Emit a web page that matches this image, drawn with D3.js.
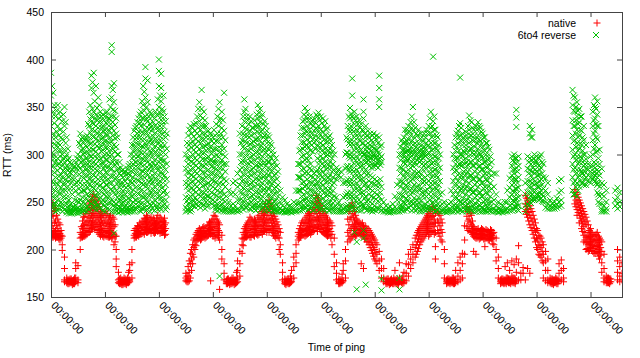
<!DOCTYPE html>
<html><head><meta charset="utf-8">
<script src="https://cdn.jsdelivr.net/npm/d3@7"></script>
<style>
body{margin:0;background:#fff}
svg{display:block}
text{font-family:"Liberation Sans",Arial,Helvetica,sans-serif;font-size:10.5px;fill:#000}
</style>
</head><body>
<svg id="c" width="640" height="358"></svg>
<script>
// ---- data (hours since start; each row: [hour, rtt values (ms)...]) ----
const yTicks = [150, 200, 250, 300, 350, 400, 450];
const xTickHours = [0, 24, 48, 72, 96, 120, 144, 168, 192, 216, 240];
const xTickLabels = ["00:00:00","00:00:00","00:00:00","00:00:00","00:00:00","00:00:00","00:00:00","00:00:00","00:00:00","00:00:00","00:00:00"];
const seriesNames = ["native", "6to4 reverse"];

// native: readings on the hour
const nativeA = [
[0,252,240,228,218,214],[1,246,235,222,216,213],[2,243,230,220,215,212],[3,232,222,216,213],[4,226,217,214,210],
[5,214,205,199],[6,192,180,168,166],[7,170,167,165],[8,168,166,164],[9,169,166,165],[10,168,167,164],
[11,186,180,170,166],[12,183,168,165],[13,218,212,200],[14,230,222,216,213],[15,235,226,218,214],
[16,240,230,222,216],[17,248,238,230,222,218],[18,252,244,236,228,222],[19,258,250,242,234,226],
[20,255,246,238,230,224],[21,248,240,232,224,218],[22,242,234,226,218,214],[23,236,228,220,214],
[24,240,230,222,215],[25,238,228,220,214],[26,234,226,218,213],[27,230,222,216,212],[28,232,224,216,205],
[29,214,200,190,182],[30,176,168,165],[31,170,166,164],[32,168,165,163],[33,169,166,164],[34,170,167,165],
[35,184,178,168,166],[36,200,186,170],[37,220,215,212],[38,222,216,213],[39,224,218,214],[40,226,220,216],
[41,230,224,218],[42,232,226,220],[43,234,228,222,218],[44,232,226,221],[45,230,225,220],[46,231,226,221,217],
[47,233,227,222],[48,230,225,220],[49,232,226,222,218],[50,230,224,219],[51,228,222,216],
[60,175,170,167],[61,182,172,166],[62,196,185,170],[63,205,195,185],[64,212,205,200],[65,218,214,210],
[66,222,216,212],[67,220,215,211],[68,224,218,214],[69,222,217,213],[70,226,220,215],[71,228,221,216,167],
[72,232,224,218,214],[73,235,226,218,212],[74,230,222,215],[75,226,218,210,158],[76,215,200,190],
[77,185,175,168],[78,168,166,164],[79,169,166,165],[80,168,167,164],[81,170,166,165],[82,168,165,164],
[83,188,178,170,166],[84,198,185,172],[85,212,205,196],[86,222,216,212],[87,226,218,213],[88,230,222,215],
[89,232,224,218,213],[90,228,221,215],[91,230,224,218],[92,234,226,220,215],[93,232,225,218],
[94,238,230,222,216],[95,245,236,228,220],[96,240,232,225,218],[97,252,242,232,224,218],[98,246,236,228,220],
[99,238,230,222,215],[100,232,224,217,212],[101,226,219,213],[102,218,205,195],[103,186,176,168],
[104,169,166,164],[105,168,166,165],[106,167,165,164],[107,178,169,166],[108,192,182,170],[109,205,196,186],
[110,218,214,210],[111,225,218,213],[112,230,222,216],[113,232,225,219,214],[114,236,228,222,216],
[115,240,232,224,218],[116,238,230,224,218],[117,244,234,226,220],[118,257,248,238,230,222],
[119,252,242,232,224],[120,246,236,228,221],[121,240,232,225,218],[122,236,228,222,216],[123,232,225,219,214],
[124,230,222,216],[125,225,216,205],[126,212,195,182],[127,186,175,168],[128,169,166,164],[129,168,166,165],
[130,185,178,167],[131,200,188,170],[132,232,218,208],[133,245,232,220,210],[134,249,238,226,214],
[135,240,230,222,216],[136,232,226,220,215],[137,228,222,217],[138,226,220,215,185],[139,225,219,214,180],
[140,224,218,212],[141,222,215,208],[142,218,210,202],[143,214,205,196],[144,210,200,190],[145,205,195,185],
[146,198,188,178],[147,190,180,170],[148,180,170,166],[149,168,166,164],[150,169,166,165],[151,168,165,164],
[152,167,166,164],[153,178,168,165],[154,169,166,164],[155,186,170,166],[156,168,166,165],[157,176,168,165],
[158,185,175,167],[159,195,184,172],[160,200,190,180],[161,205,195,186],[162,212,202,192],[163,218,208,198],
[164,222,214,205],[165,226,218,210],[166,230,222,214],[167,234,226,218],[168,238,230,222,214],
[169,242,234,226,218],[170,245,236,228,220],[171,238,228,218,203,190],[172,240,230,220],[173,236,225,214],
[174,228,218,208],[175,200,185,170],[176,168,166,164],[177,169,166,165],[178,168,167,165],[179,170,166,164],
[180,178,168,165],[181,186,172,166],[182,192,178,168],[183,196,185,170],[184,225,210,195],[185,245,235,224],
[186,242,232,222],[187,236,226,218],[188,224,218,214,198],[189,220,216,212,195],[190,222,217,213],
[191,220,216,212],[192,221,216,213],[193,219,215,211,203],[194,220,216,212],[195,218,214,210],
[196,220,215,211],[197,218,213,205],[198,212,200,188],[199,192,180,170],[200,168,166,164],[201,169,166,165],
[202,182,168,165],[203,186,170,166],[204,178,168,165],[205,188,172,166],[206,184,170,165],[207,190,176,167],
[208,204,186,168],[209,175,168],[210,181,175],[211,257,248,240,168],[212,252,242,234,180],[213,246,236,226,175],
[214,240,230,220],[215,232,222,212],[216,222,212,202],[217,215,205,195],[218,212,202,192],[219,205,195,186,170],
[220,198,188,178,167],[221,190,178,168,165],[222,170,167,165],[223,169,166,164],[224,168,166,165],
[225,169,167,164],[226,185,175,167],[227,189,178,168],[228,180,170,166],
[233,263,256,248],[234,258,250,242,236],[235,252,244,236,228],[236,246,238,230,222],[237,240,232,224,215,208],
[238,234,226,213,207,200],[239,226,218,212,205,198],[240,222,214,208,202],[241,216,210,204,198],
[242,215,209,203,196],[243,218,210,204,197],[244,212,205,198,190],[245,208,198,186,176],[246,195,180,170,166],
[247,172,168,165],[248,170,167,165],[249,169,166],[252,200,188,176,168],[253,192,182,172,166],[254,186,175,168]
];

// native: readings on the half hour
const nativeB = [
[0.5,247,236,225,217,213],[1.5,241,228,219,214],[2.5,236,225,217,213],[3.5,228,219,214,211],[4.5,220,215,212],
[7.5,168,166,164],[8.5,169,167,165],[9.5,167,165,163],[10.5,170,166,164],
[13.5,224,216,213],[14.5,234,225,218,214],[15.5,238,228,220,215],[16.5,244,234,226,219],[17.5,250,241,233,225,219],
[18.5,256,246,238,230,223],[19.5,252,244,236,228,221],[20.5,251,242,234,226,220],[21.5,245,236,228,221,216],
[22.5,238,230,222,216],[23.5,234,225,218,213],[24.5,236,227,219,214],[25.5,232,224,217,213],[26.5,236,228,220,214],
[27.5,234,226,218,213],[28.5,226,214,208],
[30.5,169,166,164],[31.5,168,165,163],[32.5,170,167,164],[33.5,168,165,163],[34.5,176,168,165],
[37.5,222,217,213],[38.5,225,219,215],[39.5,228,222,216],[40.5,229,223,217],[41.5,233,227,221,216],
[42.5,236,229,223,218],[43.5,230,224,219],[44.5,234,228,222,217],[45.5,233,227,222,218],[46.5,228,223,218],
[47.5,236,229,224,219],[48.5,234,228,222,217],[49.5,229,223,218],[50.5,233,226,220,215],
[60.5,172,168,166],[61.5,188,176,167],[62.5,200,190,178],[63.5,210,202,192],[64.5,216,209,204],[65.5,220,215,211],
[66.5,219,214,210],[67.5,223,217,213],[68.5,220,216,212],[69.5,225,219,214],[70.5,229,222,217],[71.5,230,223,217],
[72.5,236,228,220,214],[73.5,232,224,216],[74.5,228,220,213],
[78.5,169,166,164],[79.5,167,165,163],[80.5,170,166,164],[81.5,168,166,163],[82.5,176,168,165],
[85.5,218,211,204],[86.5,224,218,213],[87.5,228,220,214],[88.5,234,226,218,213],[89.5,230,222,216],
[90.5,232,225,218,214],[91.5,228,222,216],[92.5,236,229,222,216],[93.5,240,232,224,218],[94.5,242,234,226,219],
[95.5,248,239,230,222],[96.5,245,236,228,221],[97.5,248,240,231,222],[98.5,242,233,225,218],[99.5,235,227,220,214],
[100.5,229,222,215],[101.5,222,212,200],
[104.5,168,165,163],[105.5,169,167,164],[106.5,172,166,165],
[110.5,222,216,212],[111.5,228,220,215],[112.5,228,221,215],[113.5,234,227,220,215],[114.5,238,230,223,217],
[115.5,236,228,221,216],[116.5,242,232,225,219],[117.5,250,240,231,223],[118.5,254,244,234,226,219],
[119.5,248,238,230,222],[120.5,243,234,226,219],[121.5,238,230,223,217],[122.5,234,226,220,215],
[123.5,228,221,215],[124.5,228,219,212],
[128.5,168,165,164],[129.5,174,167,165],
[132.5,240,226,214],[133.5,246,234,222,212],[134.5,244,234,224,216],[135.5,236,228,220,214],[136.5,230,224,218],
[137.5,227,221,216],[138.5,228,222,216],[139.5,222,216,211],[140.5,220,214,208],[141.5,220,212,205],
[142.5,216,207,199],[143.5,212,202,193],[144.5,207,197,188],
[149.5,169,166,164],[150.5,167,165,163],[151.5,169,166,165],[152.5,170,167,164],[153.5,168,166,164],
[154.5,167,165,163],[156.5,172,167,164],
[162.5,215,205,195],[163.5,220,211,201],[164.5,224,216,208],[165.5,228,220,212],[166.5,232,224,216],
[167.5,236,228,220],[168.5,240,232,224,216],[169.5,244,235,227,219],[170.5,242,232,224,216],[172.5,238,228,217],
[173.5,232,221,210],
[176.5,169,167,165],[177.5,168,166,164],[178.5,170,166,165],[179.5,168,166,164],
[185.5,240,230,220],[186.5,238,228,219],[187.5,230,222,216],[188.5,222,217,213],[189.5,221,216,212],
[190.5,219,215,211],[191.5,222,217,213],[192.5,220,215,211],[193.5,221,216,212],[194.5,219,214,210],
[195.5,221,216,212],[196.5,217,212,206],
[200.5,169,167,165],[201.5,168,165,164],[202.5,170,166,164],[203.5,169,167,165],[204.5,168,166,164],
[205.5,170,167,165],[206.5,169,166,164],
[211.5,254,245,237],[212.5,249,239,230],[213.5,243,233,223],[214.5,236,226,216],[215.5,228,218,208],
[216.5,220,210,200],[217.5,214,204,194],[218.5,208,198,188],
[222.5,169,166,164],[223.5,168,165,163],[224.5,170,167,165],[225.5,168,166,164],
[233.5,260,252,245],[234.5,255,247,239],[235.5,249,241,233],[236.5,243,235,227,219],[237.5,237,229,218,210],
[238.5,230,214,208,201],[239.5,220,213,206,199],[240.5,218,211,205,199],[241.5,214,208,201,196],
[242.5,216,210,203,198],[243.5,214,207,200,193],[244.5,210,202,194],
[247.5,170,167,165],[248.5,169,166,164]
];

// 6to4 reverse: readings on the hour
const reverseA = [
[0,386,362,330,310,295,280,265,250,242],[1,365,345,322,300,288,270,255,244],[2,340,318,305,292,276,262,248,240],
[3,352,330,312,296,283,268,252,241],[4,345,326,310,298,286,272,258,243],[5,335,316,300,288,276,262,248,240],
[6,350,330,305,292,282,270,256,242],[7,318,300,288,278,265,248,241,239],[8,296,285,276,252,243,240,238],
[9,290,280,270,248,242,239,238],[10,286,274,264,245,241,239],[11,292,280,262,246,242,239],
[12,300,288,272,258,244,240,238],[13,322,310,298,286,270,252,242,239],[14,318,306,294,282,268,255,243,240],
[15,315,302,290,278,262,248,241],[16,320,308,296,285,272,258,245,240],[17,345,330,318,305,292,280,268,255,243],
[18,383,370,340,326,312,298,285,272,260,248],[19,386,365,345,332,318,305,292,278,264,250],
[20,372,342,330,316,303,290,276,262,250,242],[21,360,340,328,315,300,288,274,260,247],
[22,345,335,322,310,296,282,268,255,244],[23,342,330,318,305,292,278,265,252,241],
[24,340,326,314,300,288,275,262,250,240],[25,345,332,320,306,294,280,268,255,243],
[26,358,338,325,312,298,285,270,256,242],[27,415,408,372,360,340,328,314,300,285,270,252,240],
[28,375,355,340,325,310,296,282,266,250,240,217],[29,338,322,308,292,276,262,248,240],
[30,300,285,272,260,250,242,239],[31,286,278,268,255,244,240],[32,284,276,262,250,242,239],
[33,282,272,258,246,240],[34,285,274,260,248,241,239],[35,290,278,265,252,242,240],
[36,310,296,282,270,256,244,240],[37,325,310,298,286,272,258,246,240],[38,330,318,305,292,280,266,252,242],
[39,338,324,310,298,285,272,258,245],[40,345,330,316,302,290,276,262,248,240],
[41,372,352,338,322,308,295,282,268,255,243],[42,392,380,360,340,326,312,298,285,270,256,244],
[43,378,355,335,320,306,292,278,264,250],[44,345,332,318,304,290,276,262,248,240],
[45,340,326,312,298,284,270,256,243],[46,338,322,308,294,280,266,252,241],[47,342,328,314,300,286,272,258,244],
[48,400,388,372,350,334,320,306,292,278,262,248],[49,385,370,356,340,325,310,296,282,268,254,242],
[50,362,345,330,316,302,288,274,260,246],[51,335,318,300,284,268,252,242],
[60,300,285,270,255,244,240],[61,320,305,290,275,262,248,241],[62,330,312,298,284,270,256,243,240],
[63,328,314,300,286,272,258,246],[64,325,310,296,282,268,254,245],[65,340,322,308,294,280,266,252],
[66,355,335,320,306,292,278,264,250],[67,368,348,330,316,302,288,274,260,248],
[68,345,330,316,302,288,274,260,247],[69,330,318,304,290,276,262,250],[70,325,312,298,284,270,256,246],
[71,322,308,294,280,268,255],[72,318,305,292,280,266,252],[73,320,306,292,278,264,250,242],
[74,340,322,306,292,278,262,248,241],[75,355,335,318,302,286,270,254,242,172],
[76,345,328,310,294,278,262,248,241],[77,365,325,306,290,274,258,244,240],[78,290,272,256,244,240],
[79,262,250,242,240],[80,258,246,241,240],[81,270,260,248,242,240],[82,272,258,246,241],
[83,280,266,252,242,240],[84,322,300,284,268,252,241],[85,330,315,300,286,272,258,245],
[86,358,345,335,320,306,292,278,264,250],[87,340,326,312,298,284,270,256,244],[88,332,318,304,290,276,262,248],
[89,335,320,306,292,278,264,250,242],[90,328,314,300,286,272,258,246],[91,330,316,302,288,274,260,247,241],
[92,352,338,324,310,296,282,268,254,243],[93,348,334,320,305,290,276,262,248],[94,342,326,312,298,284,270,256,244],
[95,335,320,306,292,278,264,250,241],[96,325,312,298,284,270,256,244],[97,318,305,292,278,264,250,241],
[98,310,296,282,268,254,243],[99,300,286,272,258,246,240],[100,296,280,266,252,242,240],
[101,282,268,256,245,240],[102,262,250,243,240],[103,255,246,241,240],[104,252,244,240,239],
[105,248,242,240,239],[106,246,241,240],[107,245,241,239],[108,250,243,240],[109,262,248,241,240],
[110,290,276,262,248,241],[111,320,305,290,276,262,250,241],[112,335,320,306,292,278,264,252,242],
[113,349,336,322,308,294,280,266,252,243],[114,345,330,316,302,288,274,260,247],
[115,340,326,312,298,285,270,256,244],[116,335,322,310,284,270,256,244],[117,338,325,312,280,268,254,242],
[118,342,328,315,282,268,255,244],[119,344,330,318,304,290,276,262,248],[120,340,326,312,298,284,270,256,243],
[121,338,324,310,296,282,268,254,242],[122,335,320,306,292,278,264,250,241],[123,328,314,300,286,272,258,245],
[124,320,306,292,278,264,250,241],[125,310,296,282,268,254,243],[126,300,284,270,256,244,240],
[127,286,280,274,255,244,240],[128,284,278,250,242,240],[129,282,276,246,241,240],[130,270,255,243,240],
[131,300,285,270,256,244,240],[132,330,316,302,288,274,260,247,241],[133,349,338,324,310,296,282,268,254,242],
[134,380,362,340,326,312,298,284,270,256,244],[135,345,332,318,304,290,276,262,248,218],
[136,340,326,312,298,284,270,256,243,208,158],[137,336,322,308,294,280,266,252,241],
[138,332,318,305,292,278,264,250,241],[139,358,345,338,325,312,300,286,272,258,245,220,212],
[140,330,318,305,296,284,270,256,244,163],[141,325,312,302,294,280,266,252,242],
[142,322,310,300,292,278,264,250,241],[143,320,308,298,290,276,262,248,240],[144,318,306,298,290,274,260,246],
[145,320,305,298,291,272,258,244],[146,383,370,358,350,318,300,292,270,256,243],
[147,310,298,292,266,252,241,169,157],[148,250,243,240],[149,246,241,240],[150,244,240,239],
[151,245,241,239],[152,248,242,240],[153,256,245,240],[154,268,252,242,240],
[155,300,286,272,258,246,240,170,158],[156,315,300,286,272,258,246,241],[157,318,306,300,292,278,264,250,241],
[158,322,310,302,296,282,268,254,243],[159,330,316,304,296,284,270,256,244],[160,334,320,305,297,286,272,258,246],
[161,350,325,310,300,288,274,260,248],[162,328,312,302,292,278,264,250,241],[163,320,306,300,294,280,266,252,242],
[164,316,304,298,292,276,262,248,240],[165,318,305,299,290,274,260,246,240],[166,322,308,300,288,272,258,245],
[167,326,312,300,285,270,256,244],[168,330,315,302,288,272,258,245],[169,345,328,312,298,284,270,256,244],
[170,403,335,320,306,292,278,264,250,242],[171,326,312,298,284,270,256,244,240],[172,318,304,290,276,262,248,241],
[173,300,286,272,258,246,240],[174,260,248,241,240],[175,250,243,240],[176,246,241,239],[177,248,242,240],
[178,262,250,242,240],[179,300,286,272,258,246,240],[180,318,304,290,276,262,248,241],
[181,325,312,296,288,272,258,245,240],[182,381,333,320,300,289,276,262,250,241],[183,322,310,298,289,274,260,248,240],
[184,315,302,290,278,264,250,242],[185,320,306,292,280,266,252,243,240],[186,341,326,312,298,284,270,256,244],
[187,334,320,306,292,278,264,250,241],[188,326,314,300,288,274,260,247,240],[189,330,316,302,290,276,262,248,240],
[190,334,320,306,294,280,266,252,241],[191,328,314,300,288,274,260,246,240],[192,322,308,296,284,270,256,244,240],
[193,318,304,292,280,266,252,242,240],[194,312,298,286,272,258,245,240],[195,305,290,276,262,249,241],
[196,292,278,264,250,242,240],[197,280,266,252,243,240],[198,280,258,246,241,240],[199,250,243,240,239],
[200,248,242,240],[201,246,241,239],[202,250,242,240],[203,262,250,243,240],[204,275,265,255,246,241],
[205,298,288,278,268,258,248,241],[206,300,292,280,270,260,250,242],[207,347,339,329,296,286,274,264,254,245],
[208,298,288,276,265,255,246,241],[211,270,258,246,240],[212,298,285,272,260,248],[213,330,322,296,284,272,260,250],
[214,326,318,294,282,270,258,252],[215,300,290,280,268,256,252],[216,298,292,282,270,258,254],
[217,296,288,278,266,256,252],[218,300,286,274,262,254],[219,290,276,264,256,250],[220,275,262,250,244],
[221,270,258,248,243],[222,252,246,243],[223,248,245,243],[224,250,246,243],[225,254,247,244],
[226,272,260,250,245],[227,274,262,252,246],
[232,368,352,336,320,305,290,276,262],[233,360,345,330,315,300,286,272,258],[234,355,340,326,312,298,284,270,256],
[235,348,334,320,306,292,278,266],[236,340,325,310,296,282,270],[237,330,315,300,288,278,268],
[238,310,295,285,276,268],[239,290,284,278,272],[240,298,288,282,276,270],[241,345,330,315,300,288,280,274],
[242,360,350,338,325,310,286,278,272],[243,356,342,330,316,304,284,276,268,260],[244,305,290,278,266,256,248],
[245,285,270,258,248,242,240],[246,268,256,246,241,240],[247,262,250,243,240],
[251,262,252,246],[252,265,255,248,243],[253,260,250,245]
];

// 6to4 reverse: readings on the half hour
const reverseB = [
[0.5,372,340,318,302,287,272,258,246],[1.5,352,333,311,296,281,263,249],[2.5,346,324,309,289,270,256,244],
[3.5,338,320,304,290,277,261,247],[4.5,340,318,304,292,279,265,250],[5.5,342,324,296,283,269,255,244],
[6.5,334,312,297,286,274,262,249],[7.5,306,294,283,271,256,244],[8.5,292,281,264,247,241],
[9.5,284,275,258,244,240],[10.5,288,269,252,243,240],[11.5,296,285,270,251,243],[12.5,312,294,279,264,250,242],
[13.5,316,304,292,277,261,247],[14.5,312,300,288,275,262,250,241],[15.5,318,309,296,284,268,254,244],
[16.5,332,314,302,290,278,265,251,242],[17.5,352,337,323,311,298,286,274,261,249],
[18.5,376,348,333,319,305,291,279,266,254,244],[19.5,356,338,325,311,298,285,271,257,245],
[20.5,349,336,322,309,296,283,269,256,246],[21.5,352,334,321,307,294,281,267,253,243],
[22.5,340,328,316,303,289,275,261,249],[23.5,336,324,311,298,285,271,258,246],
[24.5,344,333,320,307,294,281,268,256,245],[25.5,338,326,313,300,287,274,261,249],
[26.5,350,332,318,305,291,277,263,249],[27.5,368,347,334,320,306,292,277,262,246],
[28.5,346,331,317,303,289,274,258,245],[29.5,318,300,284,269,255,244],[30.5,292,280,265,252,244],
[31.5,283,271,259,248,241],[32.5,280,267,254,244],[33.5,279,265,252,243],[34.5,288,280,268,254,244],
[35.5,300,286,272,259,247],[36.5,318,304,290,276,263,250,242],[37.5,328,316,304,292,279,265,252,243],
[38.5,334,322,311,298,286,273,259,246],[39.5,342,333,318,304,291,279,265,251,241],
[40.5,356,338,324,309,296,283,270,256,243],[41.5,366,346,331,316,302,289,276,261,248],
[42.5,350,337,323,309,295,281,267,253,241],[43.5,340,327,313,299,285,271,257,244],
[44.5,343,329,315,301,287,273,259,246],[45.5,334,319,305,291,277,263,249],[46.5,345,331,317,303,289,275,261,247],
[47.5,358,341,325,311,297,283,268,254,242],[48.5,362,344,330,315,301,287,272,257,244],
[49.5,348,335,321,307,293,279,265,251],[50.5,340,324,310,294,278,262,248],[51.5,322,306,290,274,258,245],
[60.5,312,296,281,266,251,242],[61.5,326,310,295,281,268,254,244],[62.5,322,307,292,278,264,250,242],
[63.5,332,319,305,291,277,263,251],[64.5,333,316,302,288,274,260,248],[65.5,348,328,314,300,286,272,258,246],
[66.5,341,326,312,298,284,270,256,244],[67.5,338,322,308,295,281,267,254],[68.5,336,322,309,295,281,268,254,243],
[69.5,324,310,296,283,269,256,245],[70.5,318,305,291,277,262,250],[71.5,314,301,287,273,260,248],
[72.5,326,312,298,286,272,258,246],[73.5,332,314,299,285,271,257,245],[74.5,348,330,314,298,283,268,255,244],
[75.5,338,322,306,291,276,260,247],[76.5,336,318,300,285,269,253,243],[77.5,315,298,282,266,250,242],
[84.5,312,292,276,260,246],[85.5,340,322,308,293,279,265,251,242],[86.5,348,328,314,299,285,271,257,244],
[87.5,336,320,305,291,277,263,249],[88.5,340,325,311,297,283,269,255,243],[89.5,328,312,298,284,270,256,245],
[90.5,336,322,308,294,280,266,253,243],[91.5,342,330,316,303,289,275,261,248],[92.5,344,330,316,301,287,273,259,246],
[93.5,339,324,309,295,281,267,253,242],[94.5,332,318,304,290,276,262,248],[95.5,330,316,302,288,274,260,246],
[96.5,320,306,292,278,264,250,242],[97.5,312,298,285,271,257,245],[98.5,304,290,276,262,249,241],
[99.5,292,278,264,251,242],[100.5,288,274,260,247,241],
[110.5,304,290,276,262,249,242],[111.5,328,313,298,284,270,256,245],[112.5,342,328,313,299,285,271,258,246],
[113.5,340,325,310,296,282,268,254,244],[114.5,336,322,308,294,280,265,251,242],[115.5,332,318,304,290,277,262,249],
[116.5,330,316,303,276,262,249,241],[117.5,334,320,306,274,261,248],[118.5,340,326,310,296,284,270,257,245],
[119.5,336,322,308,294,280,266,252,242],[120.5,333,318,304,290,276,262,248],[121.5,330,316,302,288,274,260,246],
[122.5,326,312,298,284,270,256,244],[123.5,318,304,290,276,262,249,241],[124.5,314,300,286,272,258,246],
[125.5,304,290,276,262,249,241],[127.5,283,277,248,241],
[131.5,318,302,287,272,258,245],[132.5,340,326,312,298,284,270,256,244],[133.5,343,330,316,302,288,274,260,247],
[134.5,338,324,310,296,282,268,254,242],[135.5,336,322,308,294,280,266,252,242],[136.5,332,318,304,290,276,262,248],
[137.5,328,314,300,287,273,259,246],[138.5,326,312,302,288,274,260,247],[139.5,322,309,300,293,281,268,254,243],
[140.5,320,308,299,292,278,264,250,241],[141.5,318,306,297,288,272,258,245],[142.5,315,304,296,286,270,256,243],
[143.5,322,311,300,287,269,255,242],[144.5,316,305,296,288,268,253,241],[145.5,312,302,295,286,266,251,242],
[146.5,308,296,289,274,260,246],
[155.5,308,294,280,266,252,243],[156.5,312,304,296,284,270,256,244],[157.5,326,313,303,290,275,261,248],
[158.5,326,314,304,294,280,266,252,242],[159.5,324,310,301,290,276,262,249],[160.5,340,328,314,302,292,278,264,250,241],
[161.5,334,318,305,296,282,268,254,243],[162.5,322,308,299,289,275,261,247],[163.5,326,312,303,296,282,268,255,245],
[164.5,322,309,301,294,279,264,251,242],[165.5,314,302,296,284,270,256,243],[166.5,318,306,298,290,276,262,248,241],
[167.5,322,309,301,292,278,263,250,242],[168.5,338,322,308,294,280,266,252,242],[169.5,330,318,304,290,276,262,249],
[170.5,340,326,312,298,284,270,257,245],[171.5,320,306,292,278,264,251,242],[172.5,310,296,282,268,254,244],
[179.5,310,296,282,268,254,243],[180.5,322,308,296,283,268,254,244],[181.5,330,318,304,290,280,266,252,242],
[182.5,328,314,300,288,278,264,250,242],[183.5,318,304,294,282,268,254,244],[184.5,324,310,296,284,272,258,246],
[185.5,330,316,302,289,276,262,248,241],[186.5,336,320,306,292,278,264,251,242],[187.5,328,315,302,288,274,260,246],
[188.5,320,308,296,282,268,254,243],[189.5,326,312,298,285,271,257,244],[190.5,330,316,302,288,274,260,247],
[191.5,324,311,298,284,270,256,244],[192.5,318,305,292,278,264,250,242],[193.5,312,300,287,274,260,247,241],
[194.5,308,294,280,266,252,243],[195.5,298,284,270,256,245],
[205.5,294,284,274,262,252,244],[206.5,296,284,274,264,253,245],[207.5,292,282,270,259,249,242],
[212.5,292,280,266,254,246],[213.5,318,290,278,266,256,249],[214.5,296,286,274,262,254],[215.5,294,284,272,262,253],
[216.5,290,278,266,257],[217.5,298,284,272,260,253],[218.5,292,280,268,258,251],
[232.5,362,346,330,314,298,284,270,258],[233.5,350,336,322,308,294,280,266],[234.5,346,332,318,304,290,276,262],
[235.5,340,326,312,298,284,272],[236.5,318,304,292,280,270],[237.5,300,290,282,274],
[241.5,352,336,322,306,292,282,276],[242.5,348,332,318,302,290,280,270],[243.5,330,296,282,270,258,250]
];

// ---- chart ----
const svg = d3.select("#c");
const x = d3.scaleLinear().domain([0, 254]).range([51, 622]);
const y = d3.scaleLinear().domain([150, 450]).range([297, 12]);

svg.append("defs").append("clipPath").attr("id", "clip")
  .append("rect").attr("x", 51).attr("y", 12).attr("width", 572).attr("height", 286);

function flatten(rows) {
  const out = [];
  rows.forEach(r => { for (let i = 1; i < r.length; i++) out.push([r[0], r[i]]); });
  return out;
}
function plusD(pts) {
  return pts.map(([h, v]) => { const cx = x(h), cy = y(v);
    return `M${cx - 3.5},${cy}h7M${cx},${cy - 3.5}v7`; }).join("");
}
function crossD(pts) {
  return pts.map(([h, v]) => { const cx = x(h), cy = y(v);
    return `M${cx - 3},${cy - 3}l6,6M${cx - 3},${cy + 3}l6,-6`; }).join("");
}

const gridColor = "#444";

// axes (ticks inward, mirrored)
const gL = svg.append("g").attr("transform", "translate(51,0)")
  .call(d3.axisLeft(y).tickValues(yTicks).tickSize(-5).tickPadding(7));
const gR = svg.append("g").attr("transform", "translate(622,0)")
  .call(d3.axisRight(y).tickValues(yTicks).tickSize(-5).tickFormat(""));
const gB = svg.append("g").attr("transform", "translate(0,297)")
  .call(d3.axisBottom(x).tickValues(xTickHours).tickSize(-5).tickFormat((d, i) => xTickLabels[i]));
const gT = svg.append("g").attr("transform", "translate(0,12)")
  .call(d3.axisTop(x).tickValues(xTickHours).tickSize(-5).tickFormat(""));
[gL, gR, gB, gT].forEach(g => {
  g.select(".domain").remove();
  g.selectAll("line").attr("stroke", gridColor);
  g.selectAll("text").attr("fill", "#000").style("font-size", "10.5px")
    .style("font-family", '"Liberation Sans",Arial,Helvetica,sans-serif');
});
gL.selectAll("text").attr("dy", "0.36em");
gB.selectAll("text").attr("x", 0).attr("y", 0).attr("dy", 0)
  .attr("text-anchor", "start").attr("transform", "translate(-1,9) rotate(45)");

// series
const plot = svg.append("g").attr("clip-path", "url(#clip)");
plot.append("path").attr("d", plusD(flatten(nativeA.concat(nativeB))))
  .attr("fill", "none").attr("stroke", "#ff0000").attr("stroke-width", 1);
plot.append("path").attr("d", crossD(flatten(reverseA.concat(reverseB))))
  .attr("fill", "none").attr("stroke", "#00c000").attr("stroke-width", 1);

// border
svg.append("rect").attr("x", 51.5).attr("y", 12.5).attr("width", 571).attr("height", 285)
  .attr("fill", "none").attr("stroke", gridColor).attr("stroke-width", 1);

// axis titles
svg.append("text").attr("transform", "translate(11,155) rotate(-90)")
  .attr("text-anchor", "middle").text("RTT (ms)");
svg.append("text").attr("x", 336.5).attr("y", 351).attr("text-anchor", "middle").text("Time of ping");

// legend
const leg = svg.append("g");
leg.append("text").attr("x", 576).attr("y", 26.5).attr("text-anchor", "end").text(seriesNames[0]);
leg.append("text").attr("x", 576).attr("y", 38.5).attr("text-anchor", "end").text(seriesNames[1]);
leg.append("path").attr("d", "M593.5,23h7M597,19.5v7").attr("stroke", "#ff0000").attr("fill", "none");
leg.append("path").attr("d", "M593,32l6,6M593,38l6,-6").attr("stroke", "#00c000").attr("fill", "none");
</script>
</body></html>
